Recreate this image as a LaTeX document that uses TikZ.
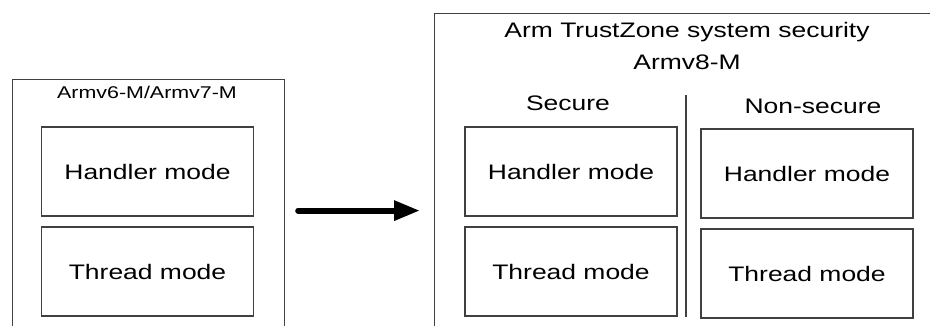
\documentclass[tikz,border=0pt]{standalone}
\usepackage{fontspec}
\setmainfont[FakeStretch=1.26]{Liberation Sans}
\usetikzlibrary{arrows.meta}

\begin{document}
\begin{tikzpicture}[x=1pt,y=-1pt,node distance=100pt,
	frame/.style={draw=black!75,line width=1.2pt,inner sep=0pt},
	mode/.style={draw=black!75,line width=1.2pt,minimum width=212pt,minimum height=89pt,
		font=\fontsize{21}{25}\selectfont},
	heading/.style={font=\fontsize{21}{32}\selectfont,inner sep=0pt,align=center},
	arrow/.style={line width=6pt,line cap=round,-{Triangle[length=26pt,width=19pt]}}]
	\clip (0,0) rectangle (930,325);
	% left: old architecture
	\node[frame,minimum width=272pt,minimum height=262pt,anchor=north west](old) at (12,79) {};
	\node[inner sep=0pt,font=\fontsize{17}{20}\selectfont](oldtitle) at (147,92) {Armv6-M/Armv7-M};
	\node[mode](H1) at (147.5,171.5) {Handler mode};
	\node[mode](T1)[below of=H1] {Thread mode};
	% right: TrustZone
	\node[frame,minimum width=520pt,minimum height=394pt,anchor=north west](new) at (434,13) {};
	\node[heading](newtitle) at (687,46) {Arm TrustZone system security\\Armv8-M};
	\node[heading](S) at (568,103) {Secure};
	\node[heading](NS) at (813,106) {Non-secure};
	\node[mode](H2) at (571,171.5) {Handler mode};
	\node[mode](T2)[below of=H2] {Thread mode};
	\node[mode](H3) at (807,173.5) {Handler mode};
	\node[mode](T3)[below of=H3] {Thread mode};
	\coordinate (divtop) at (686,95);
	\coordinate (divbot) at (686,317);
	\draw[black!75,line width=1.2pt] (divtop) -- (divbot);
	
	\draw[arrow] ([xshift=13pt]old.east) -- ([xshift=-14pt]new.west);
\end{tikzpicture}
\end{document}
